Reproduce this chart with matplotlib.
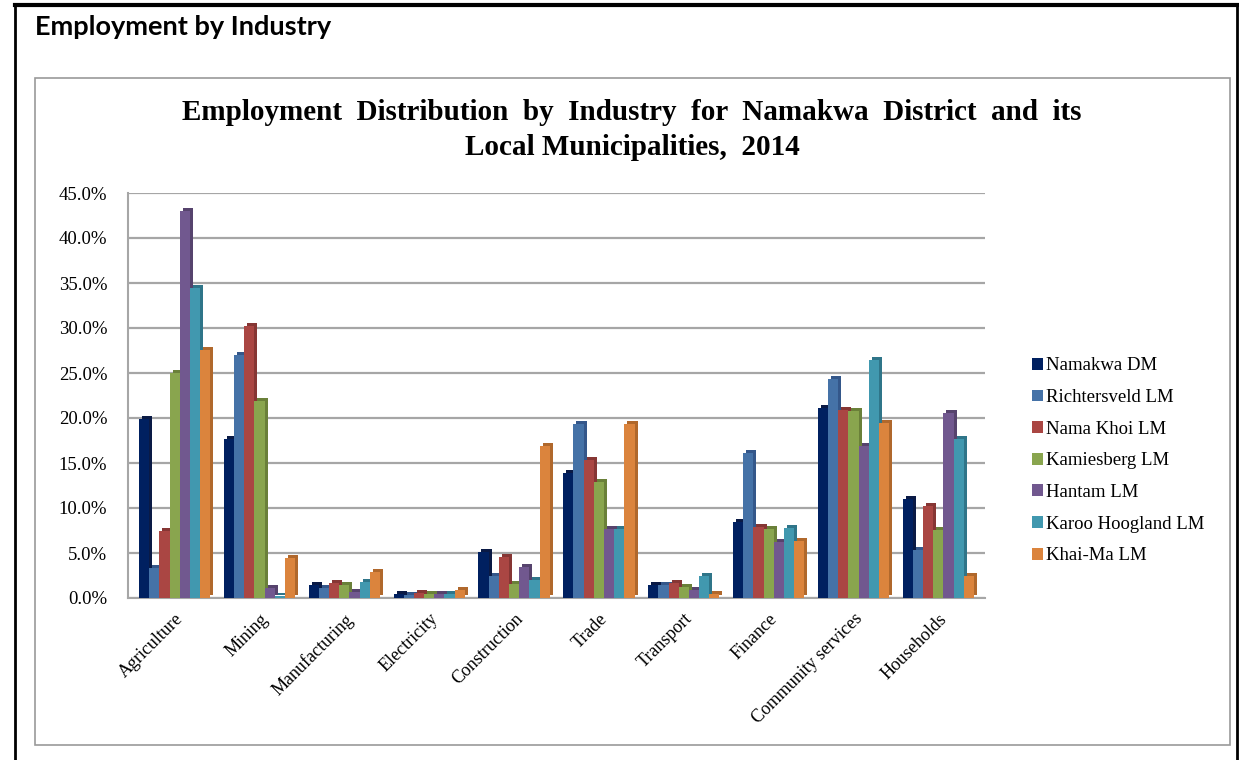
import numpy as np
import matplotlib
matplotlib.use('Agg')
import matplotlib.pyplot as plt
import matplotlib.transforms as mtransforms
from matplotlib.patches import Rectangle
from matplotlib.lines import Line2D
from matplotlib.ticker import PercentFormatter

# 行业分类
industries = ['Agriculture', 'Mining', 'Manufacturing', 'Electricity', 'Construction',
              'Trade', 'Transport', 'Finance', 'Community services', 'Households']

# 各地区就业占比 (%)
namakwa_dm = [19.9, 17.7, 1.5, 0.5, 5.1, 13.9, 1.4, 8.5, 21.1, 11.0]
richtersveld_lm = [3.3, 27.0, 1.1, 0.3, 2.4, 19.3, 1.4, 16.1, 24.3, 5.3]
nama_khoi_lm = [7.5, 30.2, 1.7, 0.6, 4.6, 15.3, 1.7, 7.9, 20.9, 10.2]
kamiesberg_lm = [25.0, 21.9, 1.4, 0.4, 1.6, 12.9, 1.2, 7.7, 20.8, 7.6]
hantam_lm = [43.0, 1.1, 0.7, 0.4, 3.5, 7.7, 0.9, 6.2, 16.9, 20.6]
karoo_hoogland_lm = [34.5, 0.2, 1.8, 0.4, 2.0, 7.7, 2.5, 7.8, 26.4, 17.7]
khai_ma_lm = [27.6, 4.4, 2.9, 0.9, 16.9, 19.3, 0.5, 6.3, 19.5, 2.5]

series_names = ['Namakwa DM', 'Richtersveld LM', 'Nama Khoi LM', 'Kamiesberg LM',
                'Hantam LM', 'Karoo Hoogland LM', 'Khai-Ma LM']
series_values = [namakwa_dm, richtersveld_lm, nama_khoi_lm, kamiesberg_lm,
                 hantam_lm, karoo_hoogland_lm, khai_ma_lm]
colors = ['#002060', '#4572A7', '#AA4643', '#89A54E', '#71588F', '#4198AF', '#DB843D']
side_colors = ['#0A1A45', '#34578A', '#863634', '#6A8039', '#56436D', '#2F7589', '#B0682C']

serif = ['Liberation Serif', 'DejaVu Serif']

fig = plt.figure(figsize=(12.39, 7.6), dpi=100)
fig.patch.set_facecolor('white')

# 外框 (黑色)
fig.add_artist(Line2D([15 / 1239, 1237 / 1239], [1 - 5 / 760, 1 - 5 / 760],
                      transform=fig.transFigure, color='black', lw=3))
fig.add_artist(Line2D([15 / 1239, 15 / 1239], [0, 1 - 5 / 760],
                      transform=fig.transFigure, color='black', lw=2))
fig.add_artist(Line2D([1237 / 1239, 1237 / 1239], [0, 1 - 5 / 760],
                      transform=fig.transFigure, color='black', lw=2))

# 内框 (灰色)
fig.add_artist(Rectangle((35 / 1239, 1 - 745 / 760), (1230 - 35) / 1239, (745 - 78) / 760,
                         transform=fig.transFigure, fill=False, edgecolor='#9A9A9A', lw=1.2))

fig.text(35 / 1239, 1 - 27 / 760, 'Employment by Industry', fontsize=19.5,
         fontweight='bold', family=['Lato', 'DejaVu Sans'], va='center', ha='left')

fig.text(632 / 1239, 1 - 130 / 760,
         'Employment  Distribution  by  Industry  for  Namakwa  District  and  its\nLocal Municipalities,  2014',
         fontsize=21, fontweight='bold', family=serif, ha='center', va='center',
         linespacing=1.35)

ax = fig.add_axes([128 / 1239, 1 - 598 / 760, (985 - 128) / 1239, (598 - 193) / 760])

x = np.arange(len(industries))
n = len(series_names)
width = 0.12
offsets = (np.arange(n) - (n - 1) / 2) * width

# 伪3D效果：深色侧面偏移
depth = mtransforms.ScaledTranslation(3 / 100, 3 / 100, fig.dpi_scale_trans)
for i in range(n):
    ax.bar(x + offsets[i], series_values[i], width, color=side_colors[i],
           transform=ax.transData + depth, zorder=2)
for i in range(n):
    ax.bar(x + offsets[i], series_values[i], width, color=colors[i],
           label=series_names[i], zorder=3)

ax.set_xlim(-0.55, len(industries) - 0.45)
ax.set_ylim(0, 45)
ax.set_yticks(np.arange(0, 46, 5))
ax.yaxis.set_major_formatter(PercentFormatter(decimals=1))
ax.grid(axis='y', color='#A6A6A6', lw=1.6, zorder=0)
ax.set_axisbelow(True)

for side in ['top', 'right']:
    ax.spines[side].set_visible(False)
ax.spines['left'].set_color('#A6A6A6')
ax.spines['left'].set_linewidth(1.5)
ax.spines['bottom'].set_color('#A6A6A6')
ax.spines['bottom'].set_linewidth(1.5)
ax.tick_params(axis='y', length=0, pad=15)
ax.tick_params(axis='x', length=0, pad=9)

ax.set_xticks(x)
ax.set_xticklabels(industries, rotation=45, ha='right', rotation_mode='anchor')
for lbl in ax.get_yticklabels():
    lbl.set_family(serif)
    lbl.set_fontsize(13.5)
for lbl in ax.get_xticklabels():
    lbl.set_family(serif)
    lbl.set_fontsize(13)

leg = ax.legend(loc='upper left', bbox_to_anchor=(1024 / 1239, 1 - 350 / 760),
                bbox_transform=fig.transFigure, frameon=False, prop={'family': serif, 'size': 13.5},
                handlelength=0.6, handleheight=0.6, handletextpad=0.2, labelspacing=0.78,
                borderaxespad=0)

fig.savefig('out.png', dpi=100, facecolor='white')
